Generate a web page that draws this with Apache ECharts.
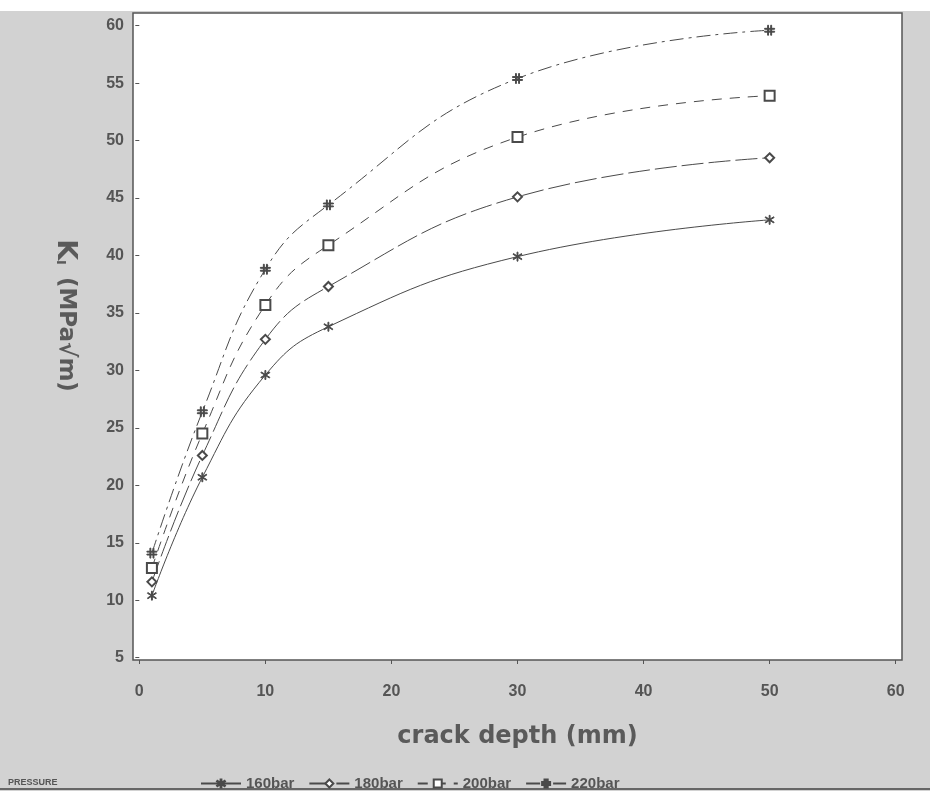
<!DOCTYPE html>
<html>
<head>
<meta charset="utf-8">
<script src="https://cdn.jsdelivr.net/npm/echarts@6/dist/echarts.min.js"></script>
<style>
  html, body { margin: 0; padding: 0; background: #fff; }
  #main { width: 930px; height: 791px; }
</style>
</head>
<body>
<div id="main"></div>
<script>
var chart = echarts.init(document.getElementById("main"));

// valores
var crackDepth = [1, 5, 10, 15, 30, 50];
var k160 = [10.4, 20.7, 29.6, 33.8, 39.9, 43.1];
var k180 = [11.6, 22.6, 32.7, 37.3, 45.1, 48.5];
var k200 = [12.8, 24.5, 35.7, 40.9, 50.3, 53.9];
var k220 = [14.1, 26.4, 38.8, 44.4, 55.4, 59.6];
var seriesNames = ["160bar", "180bar", "200bar", "220bar"];
var xTicks = [0, 10, 20, 30, 40, 50, 60];
var yTicks = [5, 10, 15, 20, 25, 30, 35, 40, 45, 50, 55, 60];

var ink = "#4a4a4a";
var titleFont = "DejaVu Sans";
var hashSymbol = "path://M3,0h0.9v10h-0.9z M6.1,0h0.9v10h-0.9z M0,3.1h10v0.9h-10z M0,6h10v0.9h-10z";
var starSymbol = "path://M4.55,0h0.9v10h-0.9z M0.5,2.4l0.45,-0.8l8.55,6l-0.45,0.8z M0.5,7.6l0.45,0.8l8.55,-6l-0.45,-0.8z";

function pares(ys) {
  return crackDepth.map(function (x, i) { return [x, ys[i]]; });
}

function serie(nombre, ys, simbolo, tam, dash) {
  return {
    name: nombre,
    type: "line",
    data: pares(ys),
    smooth: 0.45,
    symbol: simbolo,
    symbolSize: tam,
    showAllSymbol: true,
    lineStyle: { color: ink, width: 1, type: dash },
    itemStyle: { color: ink, borderColor: ink, borderWidth: 1 },
    emphasis: { disabled: true },
    z: 3,
  };
}

var option = {
  animation: false,
  backgroundColor: "#d2d2d2",
  textStyle: { fontFamily: "Liberation Sans" },
  grid: {
    left: 133,
    right: 28,
    top: 13,
    bottom: 131,
    show: true,
    backgroundColor: "#ffffff",
    borderColor: "#555",
    borderWidth: 1.5,
  },
  xAxis: {
    type: "value",
    min: -0.5,
    max: 60.5,
    name: "crack depth (mm)",
    nameLocation: "middle",
    nameGap: 65,
    nameTextStyle: {
      fontFamily: titleFont,
      fontSize: 24,
      fontWeight: "bold",
      color: "#5a5a5a",
    },
    axisLine: { show: false },
    splitLine: { show: false },
    axisTick: {
      show: true,
      customValues: xTicks,
      inside: false,
      length: 4,
      lineStyle: { color: "#555" },
    },
    axisLabel: {
      customValues: xTicks,
      margin: 24,
      fontSize: 16,
      fontWeight: "bold",
      color: "#555",
    },
  },
  yAxis: {
    type: "value",
    min: 4.8,
    max: 61.1,
    name: "{k|K}{s|I} (MPa√m)",
    nameLocation: "middle",
    nameRotate: -90,
    nameGap: 54,
    nameTextStyle: {
      fontFamily: titleFont,
      fontSize: 23,
      fontWeight: "bold",
      color: "#5a5a5a",
      padding: [0, 42, 0, 0],
      rich: {
        k: { fontFamily: titleFont, fontSize: 27, fontWeight: "bold", color: "#5a5a5a" },
        s: { fontFamily: titleFont, fontSize: 13, fontWeight: "bold", color: "#5a5a5a", padding: [10, 4, 0, 0] },
      },
    },
    axisLine: { show: false },
    splitLine: { show: false },
    axisTick: {
      show: true,
      customValues: yTicks,
      inside: false,
      length: 4,
      lineStyle: { color: "#555" },
    },
    axisLabel: {
      customValues: yTicks,
      margin: 9,
      fontSize: 16,
      fontWeight: "bold",
      color: "#555",
    },
  },
  legend: {
    data: seriesNames,
    left: 195,
    top: 771,
    itemWidth: 40,
    itemHeight: 10,
    itemGap: 14,
    textStyle: { fontSize: 15, fontWeight: "bold", color: "#555" },
    selectedMode: false,
  },
  graphic: [
    {
      type: "rect",
      shape: { x: 0, y: 0, width: 930, height: 11 },
      style: { fill: "#ffffff" },
      silent: true,
      z: -1,
    },
    {
      type: "text",
      left: 8,
      top: 778,
      style: { text: "PRESSURE", fontSize: 9, fontWeight: "bold", fill: "#555", fontFamily: "Liberation Sans" },
    },
    {
      type: "line",
      shape: { x1: 0, y1: 789, x2: 930, y2: 789 },
      style: { stroke: "#666", lineWidth: 2 },
    },
  ],
  series: [
    serie(seriesNames[0], k160, starSymbol, 9, "solid"),
    serie(seriesNames[1], k180, "emptyDiamond", 9, [22, 5]),
    serie(seriesNames[2], k200, "emptyRect", 10, [10, 8]),
    serie(seriesNames[3], k220, hashSymbol, 10, [14, 5, 3, 5]),
  ],
};

chart.setOption(option);
</script>
</body>
</html>
